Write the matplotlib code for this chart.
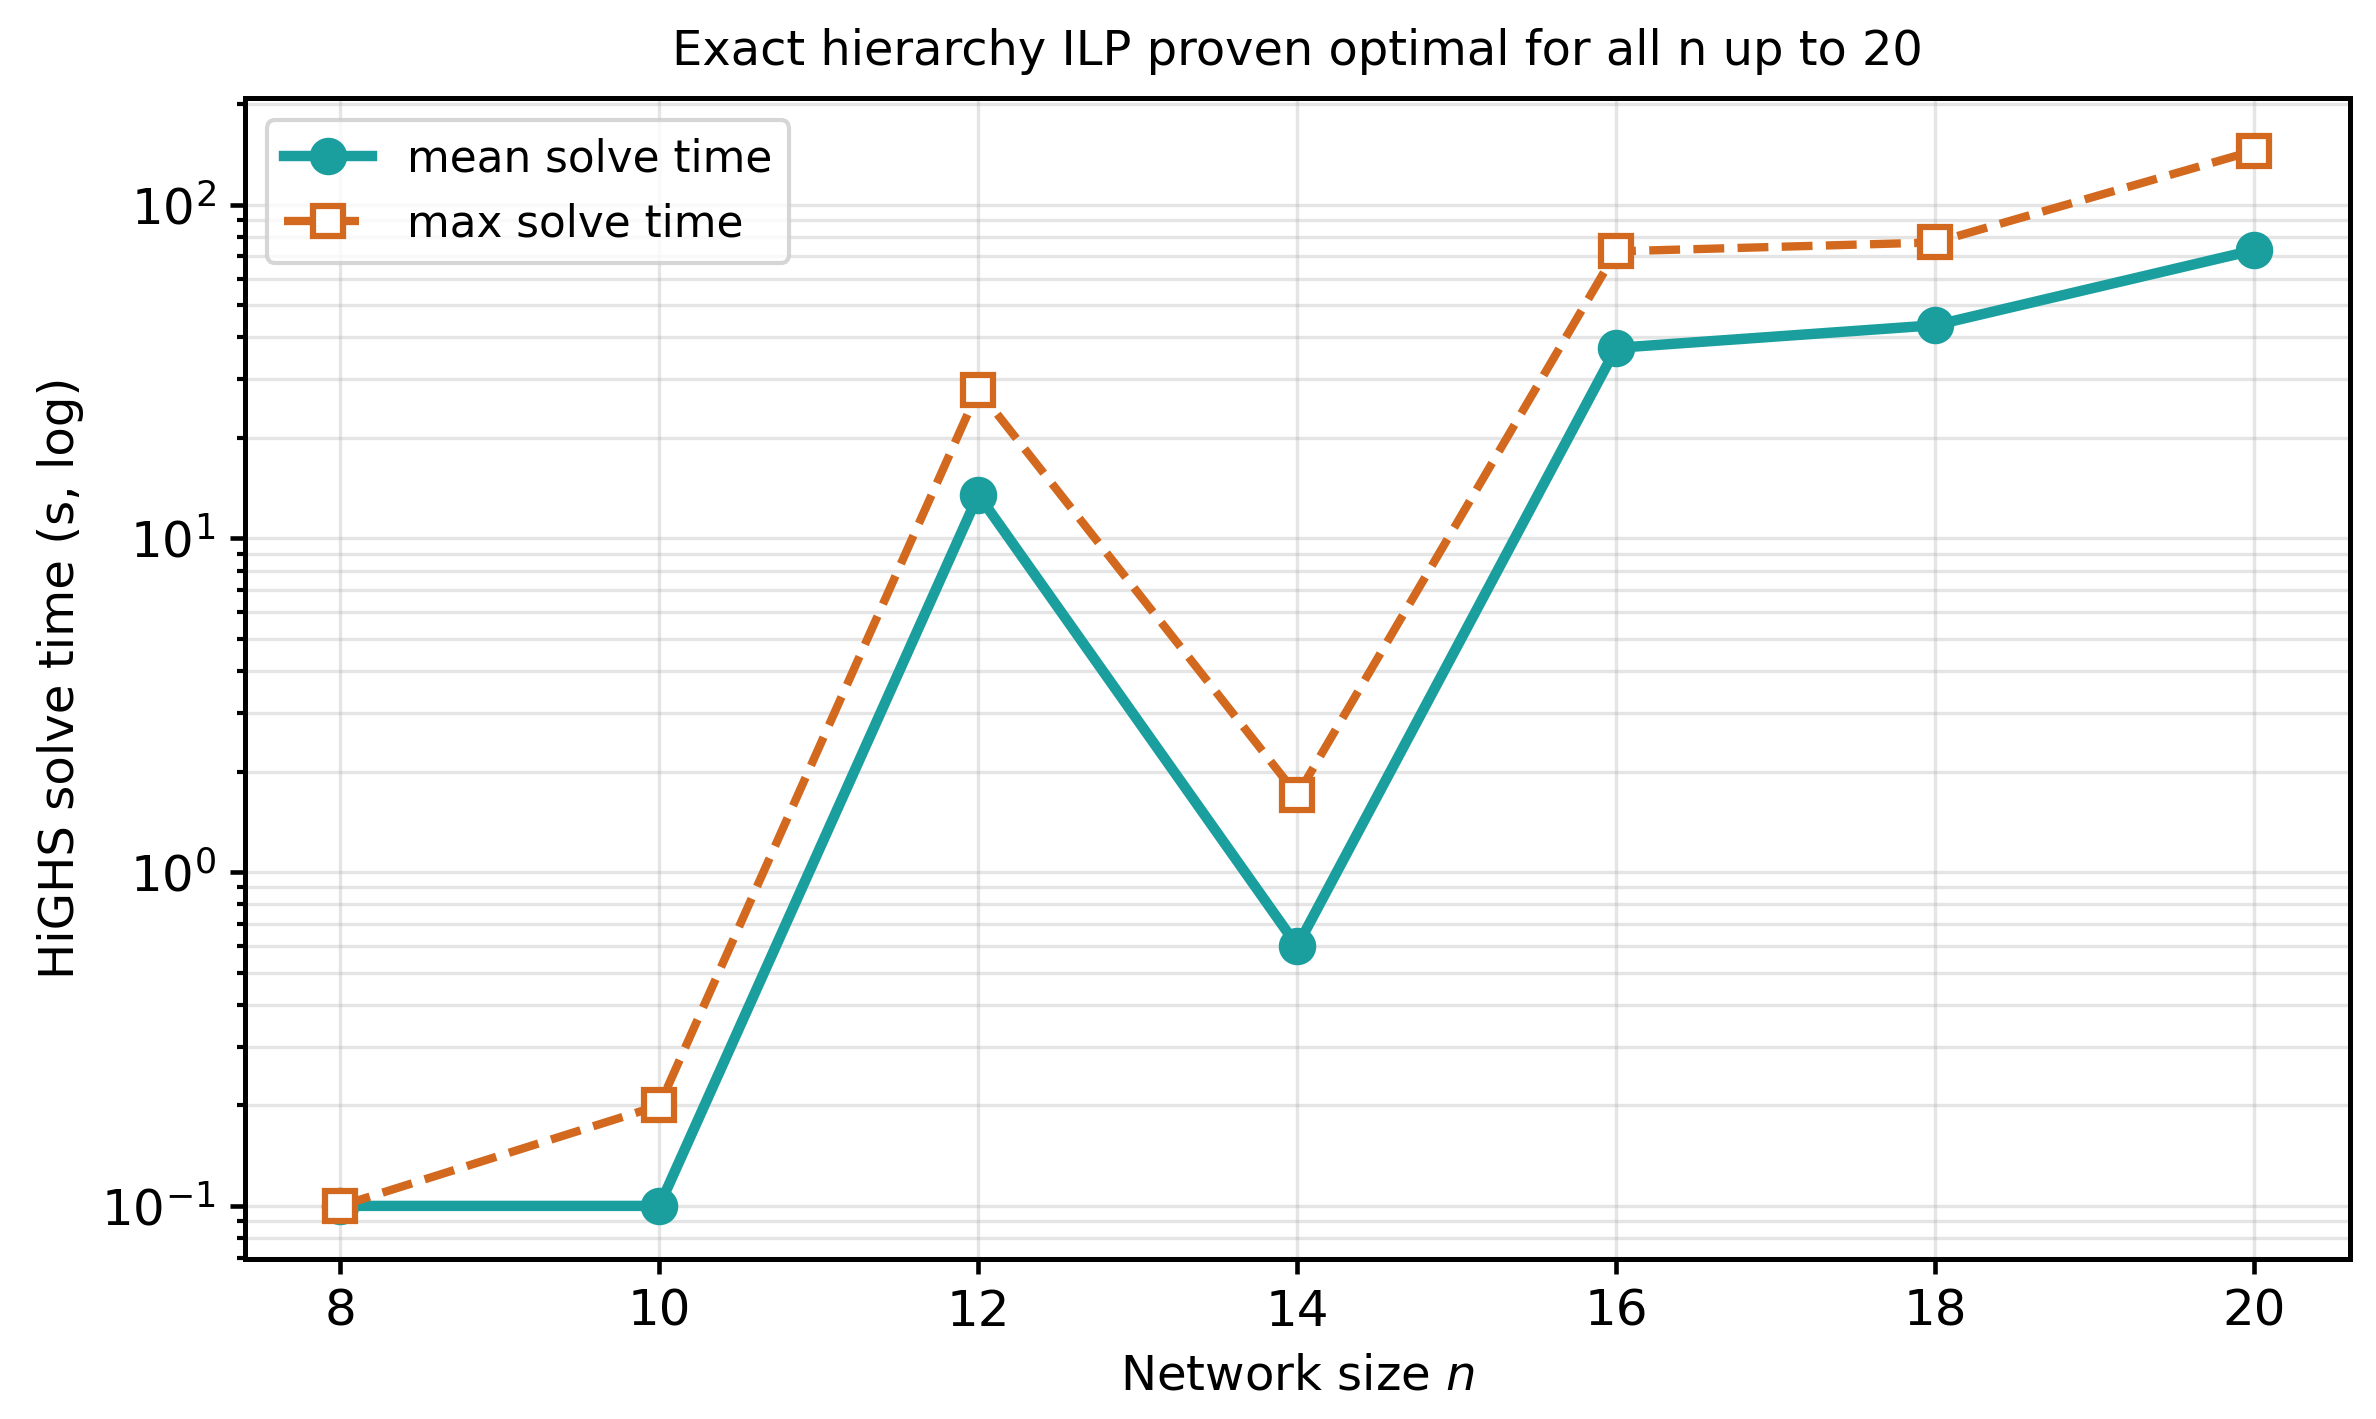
import numpy as np
import matplotlib
matplotlib.use("Agg")
import matplotlib.pyplot as plt

# network sizes and HiGHS solve times (seconds)
n_values = [8, 10, 12, 14, 16, 18, 20]
mean_time = [0.1, 0.1, 13.5, 0.60, 37.2, 43.5, 73.0]
max_time = [0.1, 0.2, 27.8, 1.70, 72.4, 77.0, 145.0]

TEAL = "#1a9e9e"
ORANGE = "#d2691e"

fig, ax = plt.subplots(figsize=(7.92, 4.73), dpi=300)

ax.plot(n_values, mean_time, "-o", color=TEAL, linewidth=2.5, markersize=8,
        label="mean solve time")
ax.plot(n_values, max_time, "--s", color=ORANGE, linewidth=2, markersize=7,
        markerfacecolor="white", markeredgewidth=1.5, label="max solve time")

ax.set_yscale("log")
ax.set_xticks(n_values)
ax.tick_params(labelsize=12, width=1.1)
ax.tick_params(which="minor", width=1.0)
for sp in ax.spines.values():
    sp.set_linewidth(1.2)
ax.grid(True, which="both", alpha=0.33)

ax.set_xlabel("Network size $n$", fontsize=11.6)
ax.set_ylabel("HiGHS solve time (s, log)", fontsize=11.6)
ax.set_title("Exact hierarchy ILP proven optimal for all n up to 20", fontsize=11.5, pad=8)
ax.legend(loc="upper left", fontsize=10.5)

fig.subplots_adjust(left=0.103, right=0.989, top=0.931, bottom=0.113)
plt.savefig("out.png", dpi=300)
